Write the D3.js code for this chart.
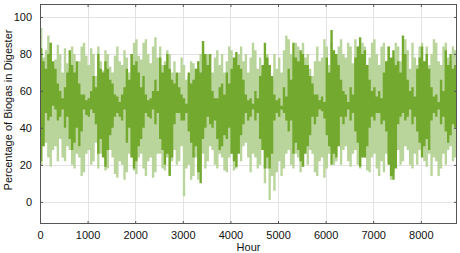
<!DOCTYPE html>
<html><head><meta charset="utf-8">
<script src="https://cdn.jsdelivr.net/npm/d3@7"></script>
<style>
html,body{margin:0;padding:0;background:#fff;}
svg{display:block;font-family:Arial,"Liberation Sans",sans-serif;}
</style></head>
<body><svg id="c" width="460" height="253"></svg>
<script>
// hourly record summarised per 50-hour block: min / max of each series
const binHours = 50;
const totalHours = 8760;
const lightHi = [94,78,82,90,86,74,77,85,80,70,83,75,72,84,80,71,76,84,86,79,74,83,80,68,84,76,71,82,80,73,70,79,84,76,74,82,78,70,80,86,88,79,77,86,88,80,75,84,89,78,84,74,76,82,80,70,76,68,70,78,74,66,68,76,75,67,72,80,84,76,80,70,70,78,82,74,80,70,76,84,82,74,72,80,84,76,80,70,78,86,82,72,78,70,71,80,74,66,80,72,78,70,82,90,88,80,78,86,84,74,86,78,80,72,68,76,84,76,78,88,84,74,86,78,76,84,88,80,78,86,84,75,88,78,76,86,84,74,78,86,88,80,74,84,86,76,84,72,78,86,84,76,80,88,82,72,86,78,74,84,86,76,84,74,80,88,86,76,74,84,86,78,76,84,82,74];
const lightLo = [20,30,32,24,19,28,30,22,34,24,22,30,28,20,18,26,24,14,16,26,28,20,22,32,18,26,26,17,18,28,24,15,13,22,20,12,16,26,24,17,15,24,26,18,14,22,24,13,16,26,26,18,17,24,15,22,28,20,22,30,3,18,20,12,14,24,12,20,26,18,22,30,28,20,18,26,24,17,16,24,26,17,18,28,22,30,32,24,16,26,24,18,20,28,10,18,1,14,6,16,22,14,18,26,28,20,18,26,24,16,19,28,20,28,26,16,14,22,24,13,18,26,28,20,22,30,20,28,30,22,19,26,28,20,18,26,24,17,16,24,26,18,14,22,16,26,22,12,16,24,28,20,22,30,28,20,18,26,20,28,30,22,19,26,14,24,22,14,18,26,20,28,30,22,24,30];
const darkHi = [83,76,72,80,86,76,72,64,60,56,62,70,82,74,70,76,64,58,58,55,56,60,68,62,80,72,70,76,72,66,64,58,57,54,58,62,72,66,80,74,76,70,62,68,58,55,56,60,66,60,78,70,74,80,72,66,64,70,62,58,56,53,70,64,66,72,76,70,87,80,74,80,60,56,56,62,64,58,70,64,72,78,81,74,72,66,58,55,56,53,60,56,68,74,86,78,74,68,58,55,56,52,62,57,72,66,86,78,76,82,80,74,74,68,64,58,58,55,57,54,78,70,93,82,80,74,66,60,58,54,62,58,78,84,89,80,82,74,66,60,62,57,60,56,70,76,84,78,82,74,76,70,90,80,66,60,62,57,72,78,84,76,80,72,62,57,58,54,66,60,82,74,80,72,74,68];
const darkLo = [22,30,48,44,46,52,50,44,46,50,40,46,34,28,32,40,30,38,50,47,46,50,48,42,26,34,24,19,28,36,40,46,48,46,44,50,32,40,24,18,22,30,34,40,48,46,45,50,42,48,34,28,20,26,14,24,42,48,48,44,44,48,38,32,24,30,16,10,34,40,46,42,40,44,34,28,30,36,34,40,26,22,19,26,36,42,48,44,46,50,44,48,34,28,18,24,18,26,44,48,46,50,48,44,38,44,26,32,28,22,19,26,30,36,46,42,46,50,49,45,36,30,20,26,24,30,46,42,46,50,44,48,38,32,19,24,24,30,40,46,44,48,48,42,44,38,20,14,12,18,42,46,48,44,46,50,42,46,38,32,24,30,34,28,44,48,46,50,42,46,38,32,36,42,40,44];
const xTicks = [0,1000,2000,3000,4000,5000,6000,7000,8000];
const yTicks = [0,20,40,60,80,100];

const svg = d3.select("#c");
const L = 40, R = 457, T = 4, B = 224;
const x = d3.scaleLinear().domain([0, totalHours]).range([L, R]);
const y = d3.scaleLinear().domain([-12, 107]).range([B, T]);

// grid
const g = svg.append("g");
g.selectAll("line.vx").data(xTicks.slice(1)).enter().append("line")
  .attr("x1", d=>Math.round(x(d))+0.5).attr("x2", d=>Math.round(x(d))+0.5).attr("y1", T).attr("y2", B)
  .attr("stroke", "#e3e3e3").attr("stroke-width", 1);
g.selectAll("line.hy").data(yTicks).enter().append("line")
  .attr("y1", d=>Math.round(y(d))+0.5).attr("y2", d=>Math.round(y(d))+0.5).attr("x1", L).attr("x2", R)
  .attr("stroke", "#e3e3e3").attr("stroke-width", 1);

function pts(lo, hi){
  const p = lo.map((v,i)=>({h:i*binHours, lo:v, hi:hi[i]}));
  p.push({h: totalHours, lo: lo[lo.length-1], hi: hi[hi.length-1]});
  return p;
}
const area = d3.area().curve(d3.curveStepAfter)
  .x(d=>x(d.h)).y0(d=>y(d.lo)).y1(d=>y(d.hi));

svg.append("path").datum(pts(lightLo, lightHi)).attr("d", area)
  .attr("fill", "#bad59c");
svg.append("path").datum(pts(darkLo, darkHi)).attr("d", area)
  .attr("fill", "#74a92f");

// frame
svg.append("rect").attr("x", L+0.5).attr("y", T+0.5).attr("width", R-L-1).attr("height", B-T-1)
  .attr("fill", "none").attr("stroke", "#555").attr("stroke-width", 1);

// axes
const ax = svg.append("g").attr("transform", `translate(0,${B})`)
  .call(d3.axisBottom(x).tickValues(xTicks).tickFormat(d3.format("d")).tickSizeInner(-3).tickSizeOuter(0).tickPadding(7));
ax.select(".domain").remove();
ax.selectAll("line").attr("stroke", "#555");
ax.selectAll("text").attr("font-size", 11).attr("fill", "#111");
const axT = svg.append("g").attr("transform", `translate(0,${T})`)
  .call(d3.axisTop(x).tickValues(xTicks).tickSizeInner(-3).tickSizeOuter(0).tickFormat(""));
axT.select(".domain").remove(); axT.selectAll("line").attr("stroke", "#555");

const ay = svg.append("g").attr("transform", `translate(${L},0)`)
  .call(d3.axisLeft(y).tickValues(yTicks).tickFormat(d3.format("d")).tickSizeInner(-3).tickSizeOuter(0).tickPadding(8));
ay.select(".domain").remove();
ay.selectAll("line").attr("stroke", "#555");
ay.selectAll("text").attr("font-size", 11).attr("fill", "#111");
const ayR = svg.append("g").attr("transform", `translate(${R},0)`)
  .call(d3.axisRight(y).tickValues(yTicks).tickSizeInner(-3).tickSizeOuter(0).tickFormat(""));
ayR.select(".domain").remove(); ayR.selectAll("line").attr("stroke", "#555");

svg.append("text").attr("x", (L+R)/2).attr("y", 251).attr("text-anchor", "middle")
  .attr("font-size", 11).attr("fill", "#111").text("Hour");
svg.append("text").attr("transform", "translate(12,110) rotate(-90)").attr("text-anchor", "middle")
  .attr("font-size", 11).attr("fill", "#111").text("Percentage of Biogas in Digester");
</script></body></html>
